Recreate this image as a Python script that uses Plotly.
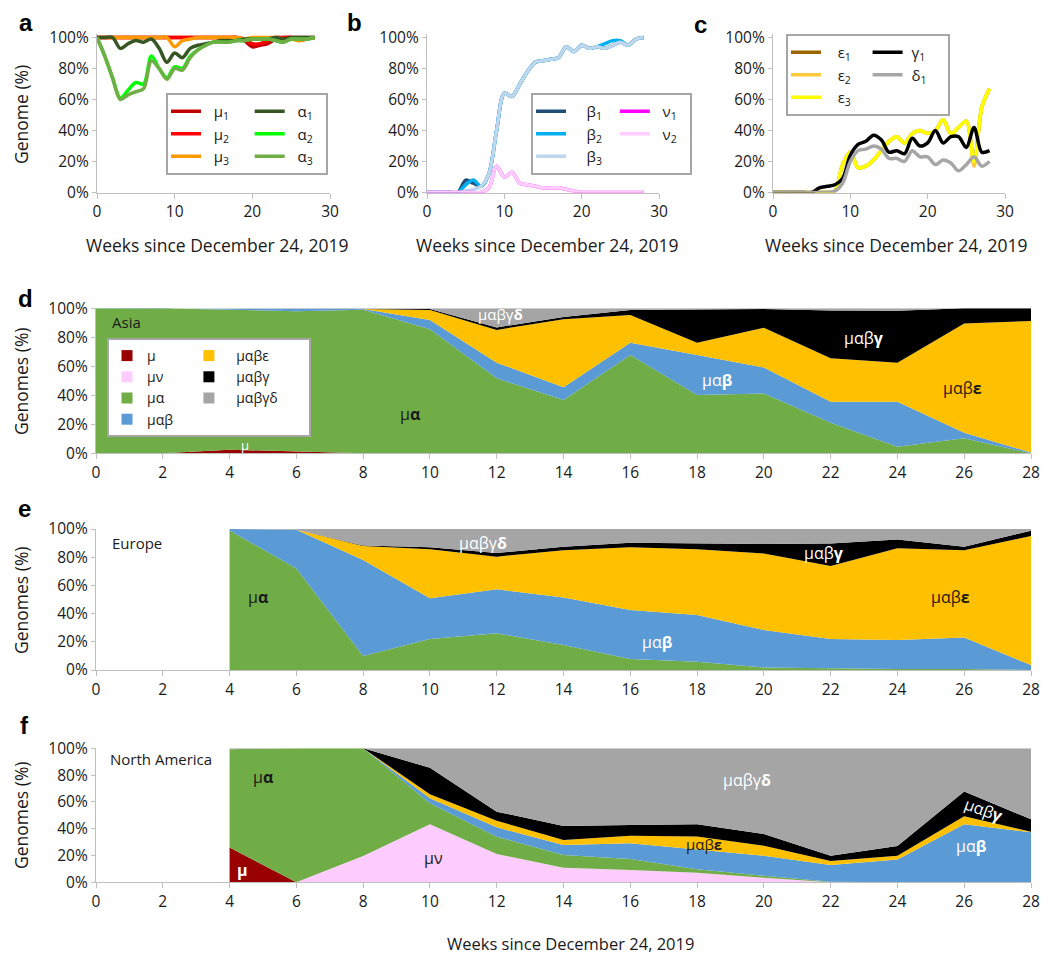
import plotly.graph_objects as go

W, H = 1052, 955
OFF = 8  # page body offset of the figure
FONT = "Open Sans, sans-serif"
TXT = "#1a1a1a"
AX = "#BFBFBF"
NB = "\u00a0"


def px(x):
    return (x - OFF) / W


def py(y):
    return 1 - (y - OFF) / H


# ---------------- data: panels a-c (weekly, % of genomes) ----------------
weeks = [0, 1, 2, 3, 4, 5, 6, 7, 8, 9, 10, 11, 12, 13, 14, 15, 16, 17, 18, 19, 20, 21, 22, 23, 24, 25, 26, 27, 28]

mu1 = [100, 100, 100, 100, 100, 100, 100, 100, 100, 100, 100, 100, 100, 100, 100, 100, 100, 100, 100, 98, 94, 95, 96, 99, 100, 100, 100, 100, 100]
mu2 = [100, 100, 100, 100, 100, 100, 100, 100, 100, 100, 100, 100, 100, 100, 100, 100, 100, 100, 100, 99, 96, 96, 98, 100, 100, 100, 98, 99, 100]
mu3 = [100, 100, 100, 100, 100, 100, 100, 100, 100, 100, 94, 98, 99, 100, 100, 100, 100, 100, 100, 99, 100, 100, 100, 100, 99, 99, 98, 99, 100]
alpha1 = [100, 100, 100, 93, 96, 98, 97, 99, 93, 84, 90, 87, 93, 95, 96, 97, 98, 98, 98, 99, 99, 99, 99, 100, 99, 100, 100, 100, 100]
alpha2 = [100, 88, 74, 61, 66, 71, 70, 88, 80, 74, 81, 80, 88, 92, 95, 97, 97, 97, 98, 98, 99, 99, 99, 98, 97, 99, 99, 99, 100]
alpha3 = [100, 88, 74, 60, 63, 65, 67, 85, 80, 73, 80, 79, 87, 92, 95, 97, 97, 97, 98, 98, 99, 99, 99, 98, 97, 99, 99, 99, 100]

beta1 = [0, 0, 0, 0, 0, 8, 6, 4, 12, 40, 64, 62, 70, 78, 84, 85, 86, 87, 94, 91, 95, 93, 94, 93, 95, 97, 95, 99, 100]
beta2 = [0, 0, 0, 0, 0, 5, 8, 4, 12, 40, 64, 62, 70, 78, 84, 85, 86, 87, 94, 91, 95, 93, 94, 96, 98, 98, 95, 99, 100]
beta3 = [0, 0, 0, 0, 0, 1, 2, 4, 12, 40, 64, 62, 70, 78, 84, 85, 86, 87, 94, 91, 95, 93, 94, 93, 95, 97, 95, 99, 100]
nu1 = [0, 0, 0, 0, 0, 0, 0, 0, 3, 17, 10, 13, 6, 5, 4, 3, 3, 3, 2, 1, 0, 0, 0, 0, 0, 0, 0, 0, 0]
nu2 = [0, 0, 0, 0, 0, 0, 0, 0, 3, 17, 10, 13, 6, 5, 4, 3, 3, 3, 2, 1, 0, 0, 0, 0, 0, 0, 0, 0, 0]

eps1 = [0, 0, 0, 0, 0, 0, 0, 0, 1, 18, 26, 16, 17, 21, 27, 33, 36, 32, 38, 40, 38, 40, 47, 38, 42, 46, 20, 55, 67]
eps2 = [0, 0, 0, 0, 0, 0, 0, 0, 1, 18, 26, 16, 17, 21, 27, 33, 36, 32, 38, 40, 38, 40, 47, 38, 42, 46, 17, 55, 67]
eps3 = [0, 0, 0, 0, 0, 0, 0, 0, 1, 18, 26, 16, 17, 21, 27, 33, 36, 32, 38, 40, 38, 40, 47, 38, 42, 46, 20, 55, 67]
gamma1 = [0, 0, 0, 0, 0, 0, 3, 4, 5, 9, 24, 31, 33, 37, 34, 26, 27, 25, 35, 30, 32, 40, 32, 36, 36, 29, 42, 26, 27]
delta1 = [0, 0, 0, 0, 0, 0, 0, 0, 1, 6, 20, 27, 28, 30, 28, 22, 22, 20, 27, 23, 23, 18, 21, 19, 14, 18, 23, 17, 20]

# ---------------- data: panels d-f (two-week bins, % of genomes) ----------------
weeks_asia = [0, 2, 4, 6, 8, 10, 12, 14, 16, 18, 20, 22, 24, 26, 28]
asia_mu = [0, 0, 2.5, 1, 0, 0, 0, 0, 0, 0, 0, 0, 0, 0, 0]
asia_mu_nu = [0, 0, 0, 0, 0, 0, 0, 0, 0, 0, 0, 0, 0, 0, 0]
asia_mu_alpha = [100, 100, 96.5, 97, 99, 85.5, 51.7, 36.8, 67.8, 40.2, 41.3, 21.1, 4.6, 10.3, 0]
asia_mab = [0, 0, 1, 2, 0.5, 6.4, 10.8, 8.7, 8.5, 27.6, 17.9, 14.5, 31, 3.9, 0.5]
asia_mabe = [0, 0, 0, 0, 0, 6.9, 22.6, 46.9, 19.1, 8.5, 27.4, 29.9, 26.9, 75.4, 90.8]
asia_mabg = [0, 0, 0, 0, 0, 0.7, 1.7, 1.6, 3.5, 22.7, 13, 33, 35.8, 10.4, 8.7]
asia_mabgd = [0, 0, 0, 0, 0.5, 0.5, 13.2, 6, 1.1, 1, 0.4, 1.5, 1.7, 0, 0]

weeks_eu = [4, 6, 8, 10, 12, 14, 16, 18, 20, 22, 24, 26, 28]
eu_mu = [0, 0, 0, 0, 0, 0, 0, 0, 0, 0, 0, 0, 0]
eu_mu_nu = [0, 0, 0, 0, 0, 0, 0, 0, 0, 0, 0, 0, 0]
eu_mu_alpha = [99, 72, 10, 22, 26, 17.7, 7.8, 5.9, 1.8, 1, 0.7, 0.7, 0]
eu_mab = [1, 27.5, 68, 28.8, 31.2, 33.8, 34.7, 33.1, 26.6, 21, 20.6, 22.3, 3.5]
eu_mabe = [0, 0, 10, 34.8, 23.2, 33.5, 44.5, 46.6, 54.3, 51.7, 65, 62, 91.5]
eu_mabg = [0, 0, 0.3, 1.4, 2.6, 2.5, 3.3, 4.2, 6.7, 16.1, 6.3, 2.5, 3.8]
eu_mabgd = [0, 0.5, 11.7, 13, 17, 12.5, 9.7, 10.2, 10.6, 10.2, 7.4, 12.5, 1.2]

weeks_na = [4, 6, 8, 10, 12, 14, 16, 18, 20, 22, 24, 26, 28]
na_mu = [26, 0, 0, 0, 0, 0, 0, 0, 0, 0, 0, 0, 0]
na_mu_nu = [0, 0, 19.6, 43.3, 21.1, 10.9, 9.2, 7.2, 3.4, 0, 0, 0, 0]
na_mu_alpha = [73.3, 100, 80.4, 15.6, 12.9, 9.5, 8.2, 2.5, 1.5, 0.5, 0, 0, 0]
na_mab = [0, 0, 0, 3.8, 7, 7.4, 11.7, 14.9, 14.9, 12.4, 17.1, 43.3, 37.3]
na_mabe = [0, 0, 0, 3, 5, 3.8, 5.7, 9.5, 7.5, 3, 2.7, 5.9, 0.5]
na_mabg = [0, 0, 0, 19.8, 6.7, 10.4, 8, 9.2, 8.7, 3.9, 7.2, 18.6, 9.2]
na_mabgd = [0.7, 0, 0, 14.5, 47.3, 58, 57.2, 56.7, 64, 80.2, 73, 32.2, 53]

haplo_names = ["μ", "μν", "μα", "μαβ", "μαβε", "μαβγ", "μαβγδ"]
haplo_colors = ["#990000", "#FFCCFF", "#70AD47", "#5B9BD5", "#FFC000", "#000000", "#A5A5A5"]

fig = go.Figure()


def lname(sym, sub, lead, trail):
    return NB * lead + "%s<sub>%s</sub>" % (sym, sub) + NB * trail


def add_line(x, y, name, color, xa, ya, leg, grp, width=3.5):
    fig.add_trace(go.Scatter(
        x=x, y=y, name=name, mode="lines",
        line=dict(color=color, width=width, shape="spline", smoothing=0.9),
        xaxis=xa, yaxis=ya, legend=leg, legendgroup=grp, hoverinfo="skip"))


# panel a
add_line(weeks, mu1, lname("μ", 1, 2, 4), "#C00000", "x", "y", "legend", "mu")
add_line(weeks, mu2, lname("μ", 2, 2, 4), "#FF0000", "x", "y", "legend", "mu")
add_line(weeks, mu3, lname("μ", 3, 2, 4), "#FF9900", "x", "y", "legend", "mu")
add_line(weeks, alpha1, lname("α", 1, 2, 2), "#375623", "x", "y", "legend", "alpha")
add_line(weeks, alpha2, lname("α", 2, 2, 2), "#00FF00", "x", "y", "legend", "alpha")
add_line(weeks, alpha3, lname("α", 3, 2, 2), "#70AD47", "x", "y", "legend", "alpha")
# panel b
add_line(weeks, beta1, lname("β", 1, 4, 2), "#1F4E79", "x2", "y2", "legend2", "beta")
add_line(weeks, beta2, lname("β", 2, 4, 2), "#00B0F0", "x2", "y2", "legend2", "beta")
add_line(weeks, beta3, lname("β", 3, 4, 2), "#BDD7EE", "x2", "y2", "legend2", "beta")
add_line(weeks, nu1, lname("ν", 1, 2, 2), "#FF00FF", "x2", "y2", "legend2", "nu")
add_line(weeks, nu2, lname("ν", 2, 2, 2), "#FFCCFF", "x2", "y2", "legend2", "nu")
# panel c
add_line(weeks, eps1, lname("ε", 1, 3, 3), "#9C6500", "x3", "y3", "legend3", "eps")
add_line(weeks, eps2, lname("ε", 2, 3, 3), "#FFC93C", "x3", "y3", "legend3", "eps")
add_line(weeks, eps3, lname("ε", 3, 3, 3), "#FFFF00", "x3", "y3", "legend3", "eps")
add_line(weeks, gamma1, lname("γ", 1, 1, 4), "#000000", "x3", "y3", "legend3", "gd")
add_line(weeks, delta1, lname("δ", 1, 1, 4), "#A6A6A6", "x3", "y3", "legend3", "gd")


def add_stack(x, series, xa, ya, group):
    for s, c, n in zip(series, haplo_colors, haplo_names):
        fig.add_trace(go.Scatter(
            x=x, y=s, name=n, mode="lines", stackgroup=group,
            line=dict(width=0, color=c), fillcolor=c,
            xaxis=xa, yaxis=ya, showlegend=False, hoverinfo="skip"))


add_stack(weeks_asia, [asia_mu, asia_mu_nu, asia_mu_alpha, asia_mab, asia_mabe, asia_mabg, asia_mabgd], "x4", "y4", "asia")
add_stack(weeks_eu, [eu_mu, eu_mu_nu, eu_mu_alpha, eu_mab, eu_mabe, eu_mabg, eu_mabgd], "x5", "y5", "eu")
add_stack(weeks_na, [na_mu, na_mu_nu, na_mu_alpha, na_mab, na_mabe, na_mabg, na_mabgd], "x6", "y6", "na")

# legend entries (square swatches) for panel d
for i, (n, c) in enumerate(zip(haplo_names, haplo_colors)):
    label = n + NB * 3 if i < 4 else NB * 2 + n + NB * 7
    fig.add_trace(go.Scatter(
        x=[None], y=[None], name=label, mode="markers",
        marker=dict(symbol="square", size=11, color=c),
        xaxis="x4", yaxis="y4", legend="legend4",
        legendgroup="c1" if i < 4 else "c2", hoverinfo="skip"))


def xax(x0, x1, anchor, rng, dtick):
    return dict(domain=[px(x0), px(x1)], anchor=anchor, range=rng, dtick=dtick, tick0=0,
                showline=True, linecolor=AX, linewidth=1.3, ticks="outside", ticklen=5,
                tickcolor=AX, tickwidth=1.3, showgrid=False, zeroline=False,
                tickfont=dict(family=FONT, size=15.5, color=TXT), fixedrange=True)


def yax(y0, y1, anchor, rng):
    return dict(domain=[py(y1), py(y0)], anchor=anchor, range=rng, dtick=20, tick0=0,
                ticksuffix="%", showline=True, linecolor=AX, linewidth=1.3, ticks="outside",
                ticklen=4, tickcolor=AX, tickwidth=1.3, showgrid=False, zeroline=False,
                tickfont=dict(family=FONT, size=15.5, color=TXT), fixedrange=True)


top_y1 = 37.5 - 2 * 1.55
top_y0 = 192.5


def leg(x, y, size=15):
    return dict(x=px(x), y=py(y), xanchor="left", yanchor="top", orientation="h",
                traceorder="grouped", bordercolor="#A6A6A6", borderwidth=2, bgcolor="white",
                font=dict(family=FONT, size=size, color=TXT), itemwidth=30)


annotations = []


def ann(text, x, y, xref="paper", yref="paper", size=16, color=TXT, xanchor="center", **kw):
    d = dict(text=text, x=x, y=y, xref=xref, yref=yref, showarrow=False,
             xanchor=xanchor, yanchor="middle",
             font=dict(family=FONT, size=size, color=color))
    d.update(kw)
    annotations.append(d)


# panel letters
LET = "Liberation Sans, Arial, sans-serif"
for t, x, y in [("a", 17, 23), ("b", 345, 23), ("c", 692, 24), ("d", 16, 298), ("e", 16, 508), ("f", 18, 725)]:
    annotations.append(dict(text="<b>%s</b>" % t, x=px(x), y=py(y), xref="paper", yref="paper",
                            xanchor="left", yanchor="middle", showarrow=False,
                            font=dict(family=LET, size=24, color="black")))

# axis titles
for xc in [217, 547, 896]:
    ann("Weeks since December 24, 2019", px(xc), py(245), size=17.5)
ann("Weeks since December 24, 2019", px(570), py(943), size=16.5)
ann("Genome (%)", px(21), py(115), size=17.5, textangle=-90)
for yc in [381, 600, 815]:
    ann("Genomes (%)", px(21), py(yc), size=17.5, textangle=-90)

# region labels
ann("Asia", px(110), py(322), size=15, xanchor="left")
ann("Europe", px(110), py(543), size=15, xanchor="left")
ann("North America", px(108), py(759), size=15, xanchor="left")

W_ = "white"
# labels inside stacked panels
ann("μ<b>α</b>", 9.4, 27, "x4", "y4")
ann("μ", 4.46, 5.7, "x4", "y4", size=13, color=W_)
ann("μαβγ<b>δ</b>", 12.1, 96, "x4", "y4", size=15, color=W_)
ann("μαβ<b>γ</b>", 23, 79.3, "x4", "y4", color=W_)
ann("μα<b>β</b>", 18.6, 50.5, "x4", "y4", color=W_)
ann("μαβ<b>ε</b>", 25.95, 44.8, "x4", "y4")

ann("μ<b>α</b>", 4.85, 52, "x5", "y5")
ann("μαβγ<b>δ</b>", 11.6, 90, "x5", "y5", color=W_)
ann("μαβ<b>γ</b>", 21.8, 82.7, "x5", "y5", color=W_)
ann("μαβ<b>ε</b>", 25.6, 52, "x5", "y5")
ann("μα<b>β</b>", 16.8, 20, "x5", "y5", color=W_)

ann("μ<b>α</b>", 5.0, 78.8, "x6", "y6")
ann("<b>μ</b>", 4.4, 9.2, "x6", "y6", color=W_)
ann("μν", 10.1, 17.9, "x6", "y6")
ann("μαβγ<b>δ</b>", 19.5, 76.3, "x6", "y6", color=W_)
ann("μαβ<b>ε</b>", 18.2, 28.6, "x6", "y6", size=15)
ann("μαβ<b>γ</b>", 26.6, 54, "x6", "y6", color=W_, textangle=20)
ann("μα<b>β</b>", 26.2, 27, "x6", "y6", color=W_)

fig.update_layout(
    width=W, height=H, autosize=False,
    margin=dict(l=0, r=0, t=0, b=0, autoexpand=False),
    paper_bgcolor="white", plot_bgcolor="white",
    font=dict(family=FONT, color=TXT),
    xaxis=xax(97, 330, "y", [0, 30], 10),
    yaxis=yax(top_y1, top_y0, "x", [0, 102]),
    xaxis2=xax(427, 659, "y2", [0, 30], 10),
    yaxis2=yax(top_y1, top_y0, "x2", [0, 102]),
    xaxis3=xax(773, 1005, "y3", [0, 30], 10),
    yaxis3=yax(top_y1, top_y0, "x3", [0, 102]),
    xaxis4=xax(96, 1031, "y4", [0, 28], 2),
    yaxis4=yax(308.3, 453.3, "x4", [0, 100]),
    xaxis5=xax(96, 1031, "y5", [0, 28], 2),
    yaxis5=yax(529, 670, "x5", [0, 100]),
    xaxis6=xax(96, 1031, "y6", [0, 28], 2),
    yaxis6=yax(748.3, 882.3, "x6", [0, 100]),
    legend=leg(166, 93),
    legend2=leg(531, 93),
    legend3=leg(786, 34),
    legend4=leg(107, 338, 14),
    annotations=annotations,
    showlegend=True,
)

fig.write_html("out.html")
